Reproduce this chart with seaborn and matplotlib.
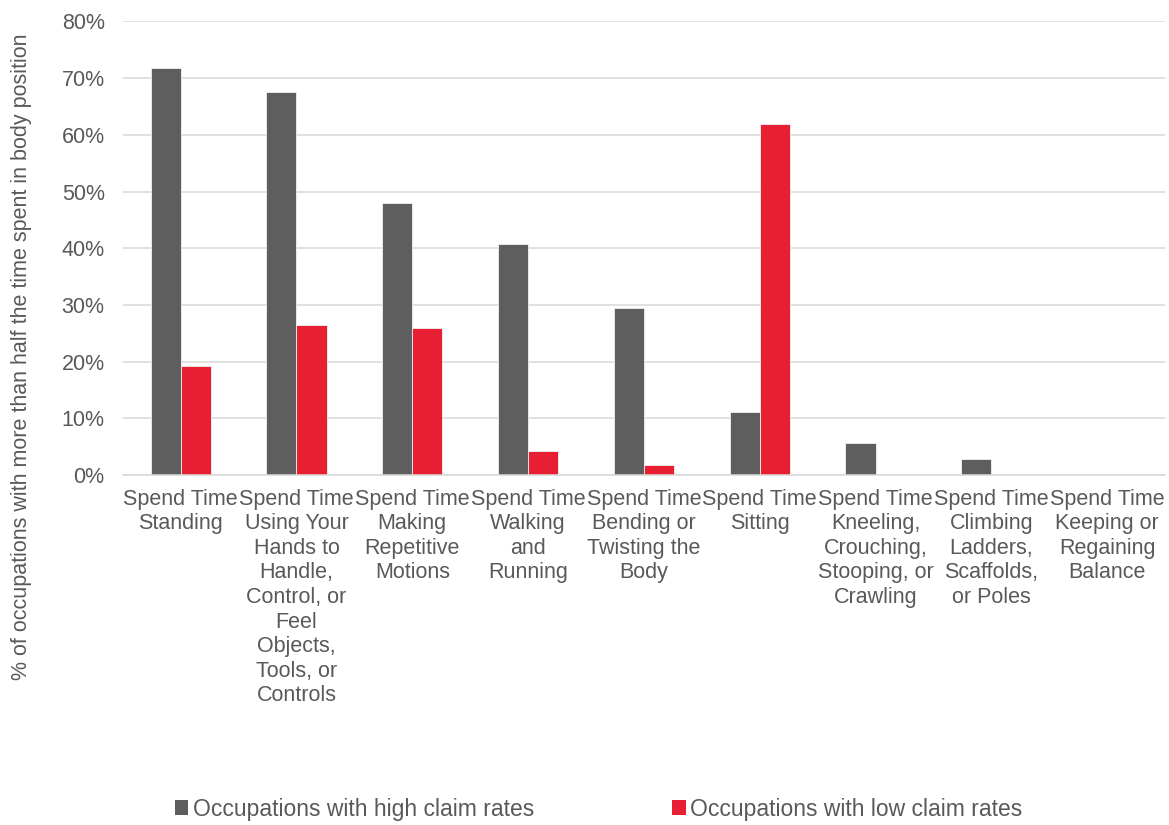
import matplotlib
matplotlib.use("Agg")
import matplotlib.pyplot as plt
import seaborn as sns
import pandas as pd
from matplotlib.ticker import PercentFormatter
from matplotlib.patches import Patch

categories = [
    "Spend Time\nStanding",
    "Spend Time\nUsing Your\nHands to\nHandle,\nControl, or\nFeel\nObjects,\nTools, or\nControls",
    "Spend Time\nMaking\nRepetitive\nMotions",
    "Spend Time\nWalking\nand\nRunning",
    "Spend Time\nBending or\nTwisting the\nBody",
    "Spend Time\nSitting",
    "Spend Time\nKneeling,\nCrouching,\nStooping, or\nCrawling",
    "Spend Time\nClimbing\nLadders,\nScaffolds,\nor Poles",
    "Spend Time\nKeeping or\nRegaining\nBalance",
]
high_claim = [71.8, 67.6, 47.9, 40.8, 29.5, 11.1, 5.6, 2.8, 0.0]
low_claim = [19.2, 26.5, 25.9, 4.2, 1.8, 62.0, 0.0, 0.0, 0.0]
series_names = ["Occupations with high claim rates", "Occupations with low claim rates"]
colors = ["#5e5e5e", "#e81e32"]
y_label = "% of occupations with more than half the time spent in body position"

df = pd.DataFrame({
    "category": categories * 2,
    "value": high_claim + low_claim,
    "series": [series_names[0]] * len(categories) + [series_names[1]] * len(categories),
})

sns.set_theme(style="white")
plt.rcParams["font.family"] = ["Liberation Sans", "DejaVu Sans"]
text_color = "#595959"

fig = plt.figure(figsize=(11.69, 8.25), dpi=100)
ax = fig.add_axes([0.105, 0.4242, 0.8916, 0.5498])

sns.barplot(data=df, x="category", y="value", hue="series", order=categories,
            hue_order=series_names, palette=colors, width=0.52, saturation=1,
            edgecolor="#f2f2f2", linewidth=0.6, legend=False, ax=ax)

ax.set_ylim(0, 80)
ax.set_yticks(range(0, 81, 10))
ax.yaxis.set_major_formatter(PercentFormatter(decimals=0))
ax.set_xlim(-0.5, len(categories) - 0.5)
ax.grid(axis="y", color="#d9d9d9", linewidth=1.1)
ax.set_axisbelow(True)
for s in ["top", "right", "left"]:
    ax.spines[s].set_visible(False)
ax.spines["bottom"].set_color("#d9d9d9")
ax.spines["bottom"].set_linewidth(1.1)

ax.tick_params(axis="y", length=0, pad=13, labelsize=15.5, labelcolor=text_color)
ax.tick_params(axis="x", length=0, pad=10, labelsize=15.5, labelcolor=text_color)
for lbl in ax.get_xticklabels():
    lbl.set_linespacing(1.22)
    lbl.set_verticalalignment("top")
    lbl.set_multialignment("center")

ax.set_xlabel("")
ax.set_ylabel(y_label, fontsize=15.5, color=text_color)
ax.yaxis.set_label_coords(-0.0875, 0.26)

handles = [Patch(facecolor=c, edgecolor="none") for c in colors]
fig.legend(handles, series_names, loc="center", bbox_to_anchor=(0.512, 0.019),
           ncol=2, frameon=False, fontsize=16.5, labelcolor=text_color,
           handlelength=0.6, handleheight=0.6, handletextpad=0.2, columnspacing=6.0)

fig.savefig("out.png", dpi=100, facecolor="white")
